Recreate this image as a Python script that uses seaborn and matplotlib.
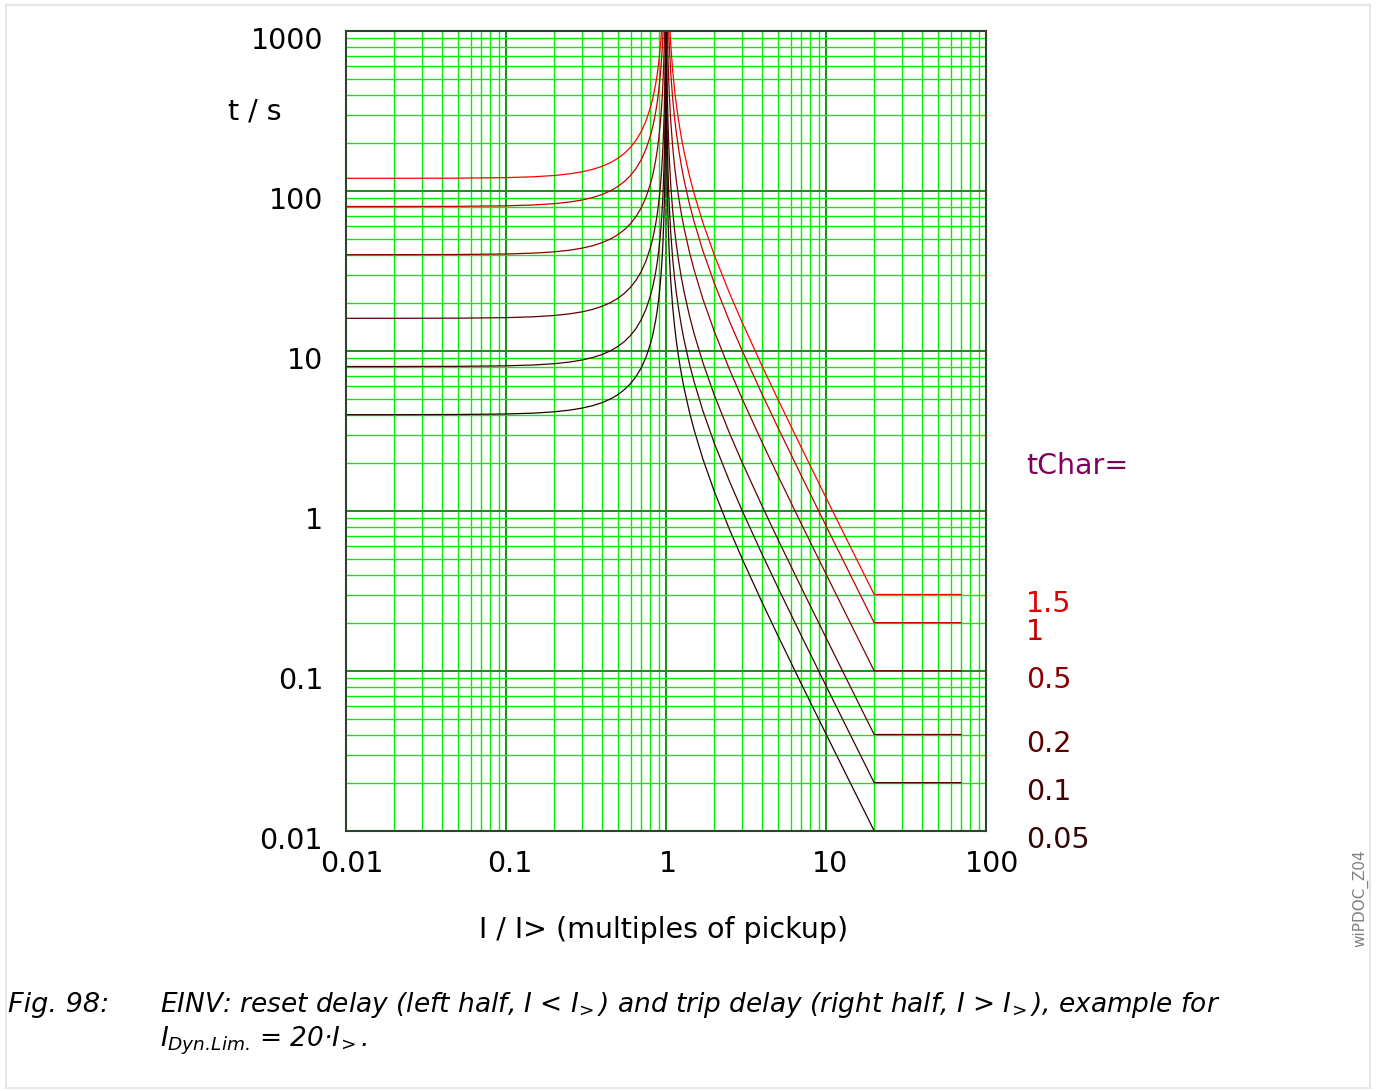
import numpy as np
import pandas as pd
import matplotlib
matplotlib.use('Agg')
import matplotlib.pyplot as plt
import matplotlib.transforms as mtransforms
from matplotlib.patches import Rectangle
from matplotlib.ticker import LogLocator, NullFormatter
import seaborn as sns

""" DATA (read off the reference) """
tchar_labels = ['1.5', '1', '0.5', '0.2', '0.1', '0.05']

# reset half, I < I>  (each curve listed until it leaves the top of the chart)
i_reset = [0.01, 0.02, 0.05, 0.1, 0.15, 0.2, 0.25, 0.3, 0.35, 0.4, 0.45, 0.5, 0.55, 0.6, 0.65,
		   0.7, 0.75, 0.8, 0.83, 0.86, 0.88, 0.9, 0.92, 0.93, 0.94, 0.95, 0.96, 0.97, 0.975,
		   0.98, 0.985, 0.99, 0.993, 0.995, 0.997, 0.998, 0.999]
t_reset_1_5 = [120.01, 120.05, 120.30, 121.21, 122.76, 125.0, 128.0, 131.87, 136.75, 142.86,
			   150.47, 160.0, 172.04, 187.5, 207.79, 235.29, 274.29, 333.33, 385.73, 460.83,
			   531.91, 631.58, 781.25, 888.23, 1030.9, 1230.8]
t_reset_1 = [80.01, 80.03, 80.20, 80.81, 81.84, 83.33, 85.33, 87.91, 91.17, 95.24,
			 100.31, 106.67, 114.70, 125.0, 138.53, 156.86, 182.86, 222.22, 257.15, 307.22,
			 354.61, 421.05, 520.83, 592.15, 687.29, 820.51, 1020.4]
t_reset_0_5 = [40.00, 40.02, 40.10, 40.40, 40.92, 41.67, 42.67, 43.96, 45.58, 47.62,
			   50.16, 53.33, 57.35, 62.5, 69.26, 78.43, 91.43, 111.11, 128.57, 153.61,
			   177.30, 210.53, 260.42, 296.08, 343.64, 410.26, 510.2, 676.8, 810.1, 1010.1]
t_reset_0_2 = [16.00, 16.01, 16.04, 16.16, 16.37, 16.67, 17.07, 17.58, 18.23, 19.05,
			   20.06, 21.33, 22.94, 25.0, 27.71, 31.37, 36.57, 44.44, 51.43, 61.44,
			   70.92, 84.21, 104.17, 118.43, 137.46, 164.10, 204.08, 270.72, 324.06, 404.04,
			   537.36, 804.02, 1146.9]
t_reset_0_1 = [8.00, 8.00, 8.02, 8.08, 8.18, 8.33, 8.53, 8.79, 9.12, 9.52,
			   10.03, 10.67, 11.47, 12.5, 13.85, 15.69, 18.29, 22.22, 25.72, 30.72,
			   35.46, 42.11, 52.08, 59.22, 68.73, 82.05, 102.04, 135.36, 162.03, 202.02,
			   268.68, 402.01, 573.44, 802.01, 1335.3]
t_reset_0_05 = [4.00, 4.00, 4.01, 4.04, 4.09, 4.17, 4.27, 4.40, 4.56, 4.76,
				5.02, 5.33, 5.74, 6.25, 6.93, 7.84, 9.14, 11.11, 12.86, 15.36,
				17.73, 21.05, 26.04, 29.61, 34.36, 41.03, 51.02, 67.68, 81.01, 101.01,
				134.34, 201.0, 286.72, 401.0, 667.65, 1001.0, 2001.0]

# trip half, I > I>  (flat above I_Dyn.Lim. = 20)
i_trip = [1.001, 1.002, 1.003, 1.005, 1.007, 1.01, 1.015, 1.02, 1.03, 1.04, 1.05, 1.07, 1.1,
		  1.13, 1.16, 1.2, 1.25, 1.3, 1.4, 1.5, 1.7, 2, 2.5, 3, 4, 5, 7, 10, 14, 20, 70]
t_trip_1_5 = [59970, 29970, 19970, 11970, 8541.6, 5970.1, 3970.2, 2970.3, 1970.4, 1470.6,
			  1170.7, 828.15, 571.43, 433.37, 347.22, 272.73, 213.33, 173.91, 125.0, 96.0,
			  63.49, 40.0, 22.857, 15.0, 8.0, 5.0, 2.5, 1.2121, 0.61538, 0.30075, 0.30075]
t_trip_1 = [39980, 19980, 13313, 7980.0, 5694.4, 3980.1, 2646.8, 1980.2, 1313.6, 980.39,
			780.49, 552.10, 380.95, 288.91, 231.48, 181.82, 142.22, 115.94, 83.33, 64.0,
			42.33, 26.667, 15.238, 10.0, 5.3333, 3.3333, 1.6667, 0.80808, 0.41026, 0.20050, 0.20050]
t_trip_0_5 = [19990, 9990, 6656.7, 3990, 2847.2, 1990.0, 1323.4, 990.1, 656.8, 490.2,
			  390.24, 276.05, 190.48, 144.46, 115.74, 90.91, 71.11, 57.97, 41.67, 32.0,
			  21.16, 13.333, 7.619, 5.0, 2.6667, 1.6667, 0.8333, 0.40404, 0.20513, 0.10025, 0.10025]
t_trip_0_2 = [7996, 3996, 2662.7, 1596, 1138.9, 796.0, 529.4, 396.0, 262.7, 196.08,
			  156.10, 110.42, 76.19, 57.78, 46.30, 36.36, 28.44, 23.19, 16.67, 12.8,
			  8.466, 5.3333, 3.0476, 2.0, 1.0667, 0.6667, 0.3333, 0.16162, 0.08205, 0.04010, 0.04010]
t_trip_0_1 = [3998, 1998, 1331.3, 798.0, 569.44, 398.01, 264.68, 198.02, 131.36, 98.04,
			  78.05, 55.21, 38.10, 28.89, 23.15, 18.18, 14.22, 11.59, 8.333, 6.4,
			  4.233, 2.6667, 1.5238, 1.0, 0.53333, 0.33333, 0.16667, 0.080808, 0.041026, 0.020050, 0.020050]
t_trip_0_05 = [1999, 999.0, 665.65, 399.0, 284.72, 199.0, 132.34, 99.01, 65.68, 49.02,
			   39.02, 27.60, 19.05, 14.45, 11.57, 9.091, 7.111, 5.797, 4.167, 3.2,
			   2.116, 1.3333, 0.7619, 0.5, 0.26667, 0.16667, 0.083333, 0.040404, 0.020513, 0.010025, 0.010025]

x_ticks = [0.01, 0.1, 1, 10, 100]
x_ticklabels = ['0.01', '0.1', '1', '10', '100']
y_ticks = [0.01, 0.1, 1, 10, 100, 1000]
y_ticklabels = ['0.01', '0.1', '1', '10', '100', '1000']

reset_curves = [t_reset_1_5, t_reset_1, t_reset_0_5, t_reset_0_2, t_reset_0_1, t_reset_0_05]
trip_curves = [t_trip_1_5, t_trip_1, t_trip_0_5, t_trip_0_2, t_trip_0_1, t_trip_0_05]

line_colors = ['#ff0000', '#c00000', '#880000', '#5a0000', '#420000', '#200000']
label_colors = ['#e00000', '#c00000', '#8a0000', '#5a0000', '#450000', '#320404']

""" LONG FORM """
frames = []
for lab, tr, tt in zip(tchar_labels, reset_curves, trip_curves):
	frames.append(pd.DataFrame({'I': i_reset[:len(tr)], 't': tr, 'tChar': lab, 'segment': 'reset'}))
	frames.append(pd.DataFrame({'I': i_trip, 't': tt, 'tChar': lab, 'segment': 'trip'}))
df = pd.concat(frames, ignore_index=True)

""" PLOT """
sns.set_style('white')
plt.rcParams['font.family'] = ['DejaVu Sans']
plt.rcParams['text.color'] = 'black'
plt.rcParams['mathtext.fontset'] = 'custom'
plt.rcParams['mathtext.rm'] = 'DejaVu Sans:italic'
plt.rcParams['mathtext.it'] = 'DejaVu Sans:italic'

W, H = 1378, 1091
fig = plt.figure(figsize=(W / 100, H / 100), dpi=100)
ax = fig.add_axes([346 / W, 1 - 831 / H, 640 / W, 800 / H])
ax.set_xscale('log')
ax.set_yscale('log')

sns.lineplot(data=df, x='I', y='t', hue='tChar', units='segment', estimator=None, sort=False,
			 palette=dict(zip(tchar_labels, line_colors)), lw=0.9, legend=False, ax=ax)

ax.set_xlim(0.01, 100)
ax.set_ylim(0.01, 1000)
ax.set_axisbelow(True)
for axis in (ax.xaxis, ax.yaxis):
	axis.set_minor_locator(LogLocator(base=10, subs=np.arange(2, 10), numticks=20))
	axis.set_minor_formatter(NullFormatter())
ax.grid(True, which='minor', color='#00f000', lw=1.0)
ax.grid(True, which='major', color='#139013', lw=1.4)
for s in ax.spines.values():
	s.set_color('#2a462a')
	s.set_linewidth(1.5)

ax.set_xticks(x_ticks)
ax.set_xticklabels(x_ticklabels)
ax.set_yticks(y_ticks)
ax.set_yticklabels(y_ticklabels)
ax.tick_params(which='both', length=0, labelsize=20.5, labelcolor='black')
ax.tick_params(axis='x', pad=14)
ax.tick_params(axis='y', pad=16.5)
ax.set_xlabel('')
ax.set_ylabel('')
for lbl, dx in zip(ax.get_xticklabels(), [6, 4, 2, 4, 6]):
	lbl.set_transform(lbl.get_transform() + mtransforms.ScaledTranslation(dx / 100, 0, fig.dpi_scale_trans))
for lbl in ax.get_yticklabels():
	lbl.set_transform(lbl.get_transform() + mtransforms.ScaledTranslation(0, -7 / 100, fig.dpi_scale_trans))

fig.text(255 / W, 1 - 112 / H, 't / s', ha='center', va='center', size=20.5)
fig.text(664 / W, 1 - 930 / H, 'I / I> (multiples of pickup)', ha='center', va='center', size=20.5)

# tChar labels at the end levels of the trip curves
ytr = ax.get_yaxis_transform()
ax.text(1.0625, 1 - (466 - 31) / 800, 'tChar=', transform=ax.transAxes, ha='left', va='center',
		size=20.5, color='#800060', clip_on=False)
for lab, tt, col in zip(tchar_labels, trip_curves, label_colors):
	ax.annotate(lab, xy=(1.0625, tt[-1]), xycoords=ytr, xytext=(0, -6.5), textcoords='offset points',
				ha='left', va='center', size=20.5, color=col, annotation_clip=False)

# caption
fig.text(8 / W, 1 - 1005 / H, 'Fig. 98:', style='italic', size=19.5, va='center')
fig.text(160 / W, 1 - 1005 / H,
		 'EINV: reset delay (left half, I < $I_{\\!>}$) and trip delay (right half, I > $I_{\\!>}$), example for',
		 style='italic', size=19, va='center')
fig.text(160 / W, 1 - 1041 / H, '$I_{Dyn\u2024Lim\u2024}$ = 20·$I_{\\!>}$.', style='italic', size=19, va='center')

fig.text(1360 / W, 1 - 898 / H, 'wiPDOC_Z04', rotation=90, ha='center', va='center', size=11, color='#808080')

fig.patches.append(Rectangle((6 / W, 1 - 1088 / H), 1364 / W, 1083 / H, transform=fig.transFigure,
							 fill=False, edgecolor='#e6e6e6', lw=1.5))

fig.savefig('out.png', dpi=100)
